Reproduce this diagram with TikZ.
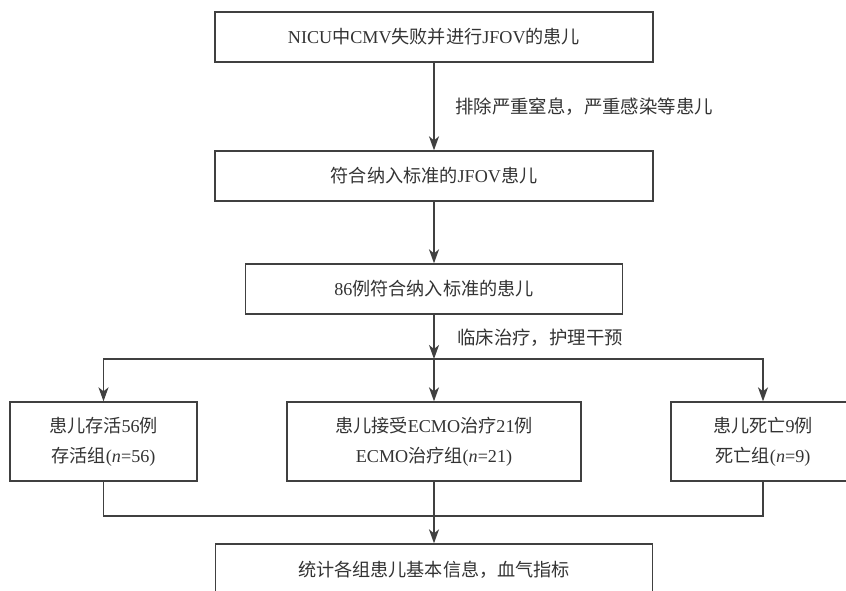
\documentclass[tikz,border=0pt]{standalone}
\usepackage{fontspec}
\setmainfont{Liberation Serif}
\newfontfamily\cjk{Noto Sans CJK SC}
\usetikzlibrary{arrows.meta,positioning}

\begin{document}
\begin{tikzpicture}[>={Stealth[length=10.5pt,width=7.5pt,inset=3pt]}, x=0.75pt, y=-0.75pt,
  box/.style={draw=black!75, line width=1pt, text=black!80, inner sep=0pt,
    align=center, font=\fontsize{13.6}{22.5}\selectfont},
  note/.style={anchor=west, text=black!80, inner sep=0pt,
    font=\fontsize{13.8}{16}\selectfont},
  link/.style={draw=black!75, line width=1pt}]
  \clip (0,0) rectangle (846,590);
  % Main chain
  \node[box, minimum width=328.5pt, minimum height=37.5pt] (nicu) at (434,37)
    {NICU{\cjk 中}CMV{\cjk 失败并进行}JFOV{\cjk 的患儿}};
  \node[box, minimum width=328.5pt, minimum height=37.5pt] (jfov) at (434,176)
    {{\cjk 符合纳入标准的}JFOV{\cjk 患儿}};
  \node[box, minimum width=282.75pt, minimum height=37.5pt] (incl) at (434,289)
    {86{\cjk 例符合纳入标准的患儿}};
  % Groups
  \node[box, minimum width=140.25pt, minimum height=59.25pt] (live) at (103.5,441.5)
    {{\cjk 患儿存活}56{\cjk 例}\\{\cjk 存活组}(\textit{n}=56)};
  \node[box, minimum width=220.5pt, minimum height=59.25pt] (ecmo) at (434,441.5)
    {{\cjk 患儿接受}ECMO{\cjk 治疗}21{\cjk 例}\\ECMO{\cjk 治疗组}(\textit{n}=21)};
  \node[box, minimum width=138pt, minimum height=59.25pt] (dead) at (763,441.5)
    {{\cjk 患儿死亡}9{\cjk 例}\\{\cjk 死亡组}(\textit{n}=9)};
  \node[box, minimum width=328pt, minimum height=39pt] (stat) at (434,570)
    {\cjk 统计各组患儿基本信息，血气指标};
  % Junctions
  \coordinate (split) at (434,359);
  \coordinate (merge) at (434,516);
  % Connectors
  \draw[link,->] (nicu) -- (jfov);
  \draw[link,->] (jfov) -- (incl);
  \draw[link,->] (incl) -- (split);
  \draw[link,->] (split) -| (live);
  \draw[link,->] (split) -| (dead);
  \draw[link,->] (split) -- (ecmo);
  \draw[link] (live) |- (merge) -| (dead);
  \draw[link,->] (ecmo) -- (stat);
  % Notes
  \node[note] (excl) at (455,107) {\cjk 排除严重窒息，严重感染等患儿};
  \node[note] (care) at (457,338) {\cjk 临床治疗，护理干预};
\end{tikzpicture}
\end{document}
